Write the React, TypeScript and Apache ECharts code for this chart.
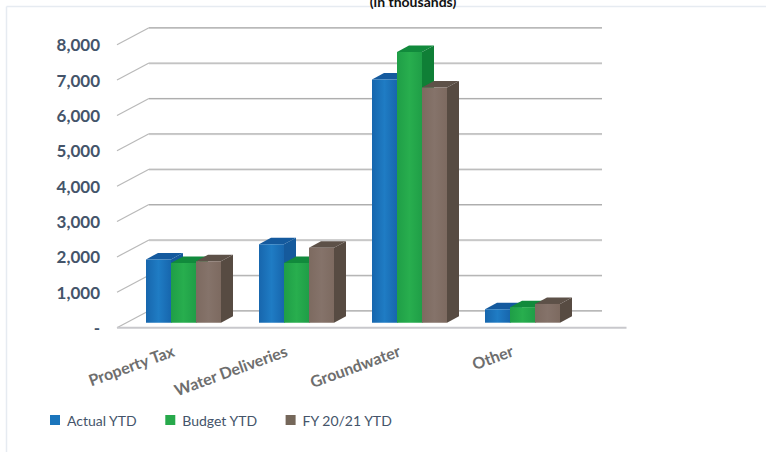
import React, { useEffect, useRef } from "react";
import * as echarts from "echarts";

const categories = ["Property Tax", "Water Deliveries", "Groundwater", "Other"];
const tickValues = [0, 1000, 2000, 3000, 4000, 5000, 6000, 7000, 8000];
const actualYtd = [1790, 2220, 6875, 380];
const budgetYtd = [1690, 1690, 7650, 440];
const priorYtd = [1740, 2120, 6650, 530];
const seriesNames = ["Actual YTD", "Budget YTD", "FY 20/21 YTD"];
const titleText = "(in thousands)";

const palettes = [
  { swatch: "#1b75bc", edge: "#1766ad", mid: "#1f7cc4", side: "#155a9c", top: "#145a9e" },
  { swatch: "#27a94b", edge: "#1f9e47", mid: "#28ae4e", side: "#0f7f36", top: "#118a3c" },
  { swatch: "#75675a", edge: "#7d6a60", mid: "#85736a", side: "#574b42", top: "#5d5148" },
];

// Oblique projection used for the wall and the bars
const WALL_DX = 32;
const WALL_DY = -17;
const BAR_DX = 12;
const BAR_DY = -6.5;
const BAR_WIDTH = 25;

const formatTick = (v: number) => (v === 0 ? "-" : v.toLocaleString("en-US"));

// Front edge, slanted side wall and back wall for one gridline
const renderGridline = (_: any, api: any) => {
  const front = api.coord([0, api.value(0)]);
  const end = api.coord([3.5, api.value(0)]);
  const x0 = 117;
  const y = front[1];
  const backLeft = [x0 + WALL_DX, y + WALL_DY];
  const backRight = [602, y + WALL_DY];
  const isFloor = api.value(0) === 0;
  const children: any[] = [
    { type: "line", shape: { x1: x0, y1: y, x2: backLeft[0], y2: backLeft[1] }, style: { stroke: "#b9b9b9", lineWidth: 1.2 } },
    { type: "line", shape: { x1: backLeft[0], y1: backLeft[1] + 0.8, x2: backRight[0], y2: backRight[1] + 0.8 }, style: { stroke: "#d6d6d6", lineWidth: 1 } },
    { type: "line", shape: { x1: backLeft[0], y1: backLeft[1], x2: backRight[0], y2: backRight[1] }, style: { stroke: "#a9a9a9", lineWidth: 1 } },
  ];
  if (isFloor) {
    children.push({ type: "line", shape: { x1: x0, y1: y, x2: end[0] + 1, y2: y }, style: { stroke: "#c8c8cc", lineWidth: 2 } });
  }
  return { type: "group", children };
};

// One 3D column: front face, right side and top
const makeBarRenderer = (seriesIndex: number) => (_: any, api: any) => {
  const p = palettes[seriesIndex];
  const top = api.coord([api.value(0), api.value(1)]);
  const base = api.coord([api.value(0), 0]);
  const band = api.size([1, 0])[0];
  const offset = (seriesIndex - 1) * (BAR_WIDTH / band) * band - BAR_WIDTH / 2;
  const x = top[0] + offset;
  const yT = top[1];
  const yB = base[1];
  return {
    type: "group",
    children: [
      {
        type: "polygon",
        shape: { points: [[x + BAR_WIDTH, yT], [x + BAR_WIDTH + BAR_DX, yT + BAR_DY], [x + BAR_WIDTH + BAR_DX, yB + BAR_DY], [x + BAR_WIDTH, yB]] },
        style: { fill: p.side },
      },
      {
        type: "polygon",
        shape: { points: [[x, yT], [x + BAR_DX, yT + BAR_DY], [x + BAR_WIDTH + BAR_DX, yT + BAR_DY], [x + BAR_WIDTH, yT]] },
        style: { fill: p.top },
      },
      {
        type: "rect",
        shape: { x, y: yT, width: BAR_WIDTH, height: yB - yT },
        style: {
          fill: new echarts.graphic.LinearGradient(0, 0, 1, 0, [
            { offset: 0, color: p.edge },
            { offset: 0.5, color: p.mid },
            { offset: 1, color: p.edge },
          ]),
        },
      },
    ],
  };
};

const seriesValues = [actualYtd, budgetYtd, priorYtd];

export default function App() {
  const ref = useRef<HTMLDivElement>(null);

  useEffect(() => {
    document.body.style.margin = "0";
    const chart = echarts.init(ref.current!, undefined, { renderer: "svg" });
    chart.setOption({
      animation: false,
      backgroundColor: "#ffffff",
      textStyle: { fontFamily: "Lato" },
      title: {
        text: titleText,
        left: 408,
        textAlign: "center",
        top: -11,
        textStyle: { fontFamily: "Lato", fontSize: 14, fontWeight: "bold", color: "#111111" },
      },
      legend: {
        left: 45,
        top: 408,
        icon: "rect",
        itemWidth: 10,
        itemHeight: 10,
        itemGap: 28,
        data: seriesNames,
        textStyle: { fontFamily: "Lato", fontSize: 14, color: "#44546a", padding: [0, 0, 0, 2] },
      },
      // Front plane carries the labels, bar plane sits halfway into the depth
      grid: [
        { left: 117, top: 44.7, width: 452, height: 283, containLabel: false },
        { left: 127, top: 39.7, width: 452, height: 283, containLabel: false },
      ],
      xAxis: [
        {
          type: "category",
          gridIndex: 0,
          data: categories,
          axisLine: { show: false },
          axisTick: { show: false },
          axisLabel: {
            interval: 0,
            rotate: 20,
            margin: 22,
            fontFamily: "Lato",
            fontSize: 16,
            fontWeight: "bold",
            color: "#6e6e6e",
          },
        },
        { type: "category", gridIndex: 1, data: categories, show: false },
      ],
      yAxis: [
        {
          type: "value",
          gridIndex: 0,
          min: 0,
          max: 8000,
          interval: 1000,
          axisLine: { show: false },
          axisTick: { show: false },
          splitLine: { show: false },
          axisLabel: {
            margin: 17,
            formatter: formatTick,
            fontFamily: "Lato",
            fontSize: 17,
            fontWeight: "bold",
            color: "#44546a",
          },
        },
        { type: "value", gridIndex: 1, min: 0, max: 8000, interval: 1000, show: false },
      ],
      graphic: [
        { type: "line", shape: { x1: 6.5, y1: 6.5, x2: 766, y2: 6.5 }, style: { stroke: "#e6ebf1", lineWidth: 1.5 }, silent: true },
        { type: "line", shape: { x1: 6.5, y1: 6.5, x2: 6.5, y2: 452 }, style: { stroke: "#e6ebf1", lineWidth: 1.5 }, silent: true },
      ],
      series: [
        {
          type: "custom",
          name: "gridlines",
          xAxisIndex: 0,
          yAxisIndex: 0,
          coordinateSystem: "cartesian2d",
          renderItem: renderGridline,
          encode: { y: 0 },
          data: tickValues.map((v) => [v]),
          silent: true,
          z: 1,
        },
        ...seriesNames.map((name, i) => ({
          type: "custom",
          name,
          xAxisIndex: 1,
          yAxisIndex: 1,
          coordinateSystem: "cartesian2d",
          renderItem: makeBarRenderer(i),
          encode: { x: 0, y: 1 },
          itemStyle: { color: palettes[i].swatch },
          data: categories.map((_, c) => [c, seriesValues[i][c]]),
          z: 2 + i,
        })),
      ],
    });
    return () => chart.dispose();
  }, []);

  return <div ref={ref} style={{ width: 766, height: 452 }} />;
}
